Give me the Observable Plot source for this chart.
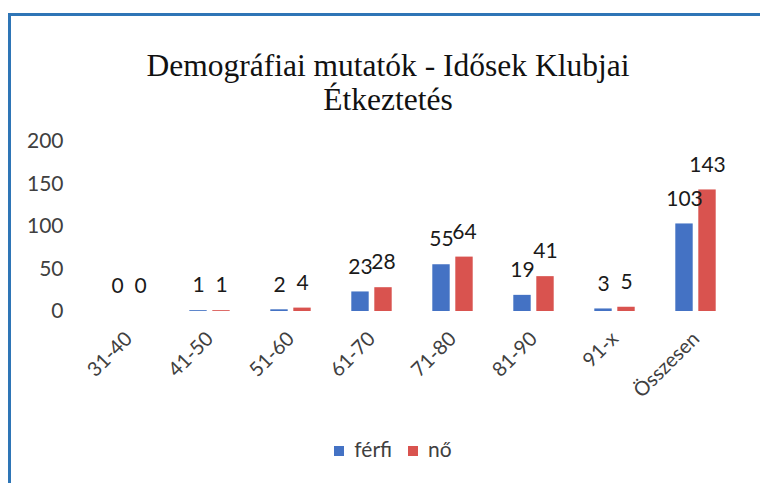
<!DOCTYPE html>
<html>
<head>
<meta charset="utf-8">
<script src="https://cdn.jsdelivr.net/npm/d3@7"></script>
<script src="https://cdn.jsdelivr.net/npm/@observablehq/plot@0.6"></script>
<style>
  html, body { margin: 0; padding: 0; background: #fff; }
  #wrap { position: relative; width: 760px; height: 483px; overflow: hidden; background: #fff; }
  #frame { position: absolute; left: 8px; top: 13px; right: -10px; bottom: -10px;
           border-top: 3px solid #2e75b6; border-left: 3px solid #2e75b6; }
  #title { position: absolute; left: 0; top: 49px; width: 776px; text-align: center;
           font-family: "Liberation Serif", "DejaVu Serif", serif; font-size: 31.5px; line-height: 34px; color: #111; }
  #chart { position: absolute; left: 0; top: 120px; }
  #legend { position: absolute; top: 436px; left: 0; width: 786px; text-align: center;
            font-family: Lato, "Open Sans", sans-serif; font-size: 21px; color: #404040; }
  #legend span.sw { display: inline-block; width: 10px; height: 10px; margin-right: 10px; vertical-align: 1px; }
  #legend span.it { margin: 0 8px; }
</style>
</head>
<body>
<div id="wrap">
  <div id="frame"></div>
  <div id="title">Demográfiai mutatók - Idősek Klubjai<br>Étkeztetés</div>
  <div id="chart"></div>
  <div id="legend"></div>
</div>
<script>
const categories = ["31-40", "41-50", "51-60", "61-70", "71-80", "81-90", "91-x", "Összesen"];
const series = ["férfi", "nő"];
const ferfi = [0, 1, 2, 23, 55, 19, 3, 103];
const no = [0, 1, 4, 28, 64, 41, 5, 143];
const yTicks = [0, 50, 100, 150, 200];
const colors = ["#4472c4", "#d9534f"];

const ferfiData = categories.map((c, i) => ({cat: c, s: series[0], v: ferfi[i]}));
const noData = categories.map((c, i) => ({cat: c, s: series[1], v: no[i]}));

const font = 'Lato, "Open Sans", sans-serif';

const chart = Plot.plot({
  width: 760,
  height: 285,
  marginTop: 21,
  marginBottom: 94,
  marginLeft: 85,
  marginRight: 22,
  style: {fontFamily: font, fontSize: "21px", color: "#404040", background: "transparent", overflow: "visible"},
  x: {domain: categories, padding: 0, label: null},
  y: {domain: [0, 200], label: null},
  color: {domain: series, range: colors},
  marks: [
    Plot.axisY({ticks: yTicks, tickSize: 0, tickPadding: 22, label: null, fontSize: 21}),
    Plot.axisX({tickSize: 0, tickPadding: 24, tickRotate: -45, label: null, fontSize: 20}),
    Plot.barY(ferfiData, {x: "cat", y: "v", fill: "s", insetLeft: 20.3, insetRight: 43.3}),
    Plot.barY(noData, {x: "cat", y: "v", fill: "s", insetLeft: 43.3, insetRight: 20.3}),
    Plot.text(ferfiData, {x: "cat", y: "v", text: d => String(d.v), dx: -11.5, dy: -25, fontSize: 21, fill: "#1a1a1a"}),
    Plot.text(noData, {x: "cat", y: "v", text: d => String(d.v), dx: 11.5, dy: -25, fontSize: 21, fill: "#1a1a1a"})
  ]
});
document.getElementById("chart").appendChild(chart);

const legend = document.getElementById("legend");
series.forEach((s, i) => {
  const it = document.createElement("span");
  it.className = "it";
  const sw = document.createElement("span");
  sw.className = "sw";
  sw.style.background = colors[i];
  it.appendChild(sw);
  it.appendChild(document.createTextNode(s));
  legend.appendChild(it);
});
</script>
</body>
</html>
